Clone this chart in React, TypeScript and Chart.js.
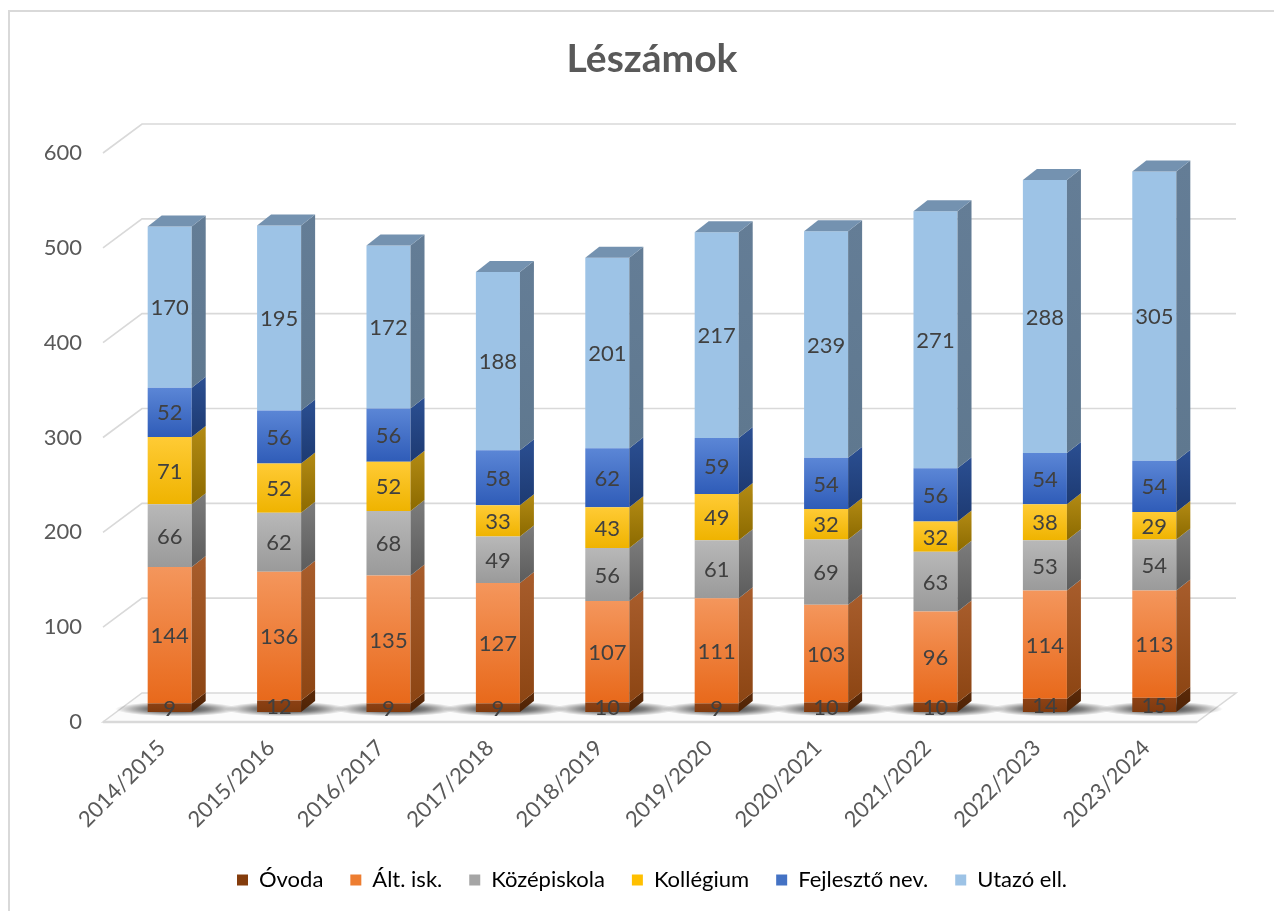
import React, { useEffect, useRef } from 'react';
import { Chart, registerables } from 'chart.js';

Chart.register(...registerables);

// ---------- data ----------
const categories = [
  '2014/2015', '2015/2016', '2016/2017', '2017/2018', '2018/2019',
  '2019/2020', '2020/2021', '2021/2022', '2022/2023', '2023/2024',
];
const seriesNames = ['Óvoda', 'Ált. isk.', 'Középiskola', 'Kollégium', 'Fejlesztő nev.', 'Utazó ell.'];
const ovoda = [9, 12, 9, 9, 10, 9, 10, 10, 14, 15];
const altIsk = [144, 136, 135, 127, 107, 111, 103, 96, 114, 113];
const kozepiskola = [66, 62, 68, 49, 56, 61, 69, 63, 53, 54];
const kollegium = [71, 52, 52, 33, 43, 49, 32, 32, 38, 29];
const fejleszto = [52, 56, 56, 58, 62, 59, 54, 56, 54, 54];
const utazo = [170, 195, 172, 188, 201, 217, 239, 271, 288, 305];
const yTickValues = [0, 100, 200, 300, 400, 500, 600];
const titleText = 'Lészámok';

const seriesValues = [ovoda, altIsk, kozepiskola, kollegium, fejleszto, utazo];

// ---------- styles ----------
const FONT = 'Lato, "Open Sans", sans-serif';
const TEXT = '#595959';
const GRID = '#d9d9d9';
const solid = ['#843c0c', '#ed7d31', '#a5a5a5', '#ffc000', '#4472c4', '#9dc3e6'];
const frontTop = ['#8c4114', '#f4965c', '#b8b8b8', '#ffcb35', '#5b86d6', '#9dc3e6'];
const frontBot = ['#7f3a0e', '#e8691b', '#9a9a9a', '#efb300', '#2f5cb8', '#9dc3e6'];
const sideTop = ['#5c2a08', '#a85d2c', '#7c7c7c', '#b38b14', '#2b4f92', '#647d96'];
const sideBot = ['#4e2306', '#8c4513', '#5c5c5c', '#8c6a00', '#1d3a72', '#5f788f'];
const topFace = '#7492b0';
const DX = 14; // side depth
const DY = 11; // side rise

const frontGradient = (c: any) => {
  const chart = c.chart;
  const i = c.datasetIndex;
  if (c.type !== 'data' || !chart.chartArea || !chart.scales || !chart.scales.y) return solid[i];
  const yScale = chart.scales.y;
  let start = 0;
  for (let k = 0; k < i; k++) start += seriesValues[k][c.dataIndex];
  const end = start + seriesValues[i][c.dataIndex];
  const y1 = yScale.getPixelForValue(end);
  const y2 = yScale.getPixelForValue(start);
  if (!isFinite(y1) || !isFinite(y2) || y1 === y2) return solid[i];
  const g = chart.ctx.createLinearGradient(0, y1, 0, y2);
  g.addColorStop(0, frontTop[i]);
  g.addColorStop(1, frontBot[i]);
  return g;
};

const threeD = {
  id: 'threeD',
  beforeDraw(chart: any) {
    const { ctx, width, height } = chart;
    ctx.save();
    ctx.fillStyle = '#ffffff';
    ctx.fillRect(0, 0, width, height);
    ctx.strokeStyle = '#d9d9d9';
    ctx.lineWidth = 2;
    ctx.beginPath();
    ctx.moveTo(9, height);
    ctx.lineTo(9, 11);
    ctx.lineTo(width, 11);
    ctx.stroke();
    ctx.restore();
  },
  beforeDatasetsDraw(chart: any) {
    const { ctx, chartArea, scales } = chart;
    const y = scales.y;
    const left = chartArea.left;
    const right = chartArea.right;
    const y0 = y.getPixelForValue(0);
    ctx.save();
    // floor
    ctx.beginPath();
    ctx.moveTo(left - 12, y0 + 10);
    ctx.lineTo(right - 12, y0 + 10);
    ctx.lineTo(right + 27, y0 - 19);
    ctx.lineTo(left + 27, y0 - 19);
    ctx.closePath();
    ctx.fillStyle = '#fbfbfb';
    ctx.fill();
    ctx.strokeStyle = GRID;
    ctx.lineWidth = 1.5;
    ctx.stroke();
    ctx.lineWidth = 2.5;
    ctx.beginPath();
    ctx.moveTo(left - 12, y0 + 10);
    ctx.lineTo(right - 12, y0 + 10);
    ctx.stroke();
    // back-wall gridlines
    ctx.lineWidth = 1.6;
    for (const v of yTickValues) {
      if (v === 0) continue;
      const py = y.getPixelForValue(v);
      ctx.beginPath();
      ctx.moveTo(left - 12, py + 10);
      ctx.lineTo(left + 27, py - 19);
      ctx.lineTo(right + 27, py - 19);
      ctx.stroke();
    }
    // shadows under bars
    const meta = chart.getDatasetMeta(0);
    for (const el of meta.data) {
      const { x, width } = el.getProps(['x', 'width'], true);
      const cx = x + DX / 2;
      const cy = y0 - 3;
      ctx.save();
      ctx.translate(cx, cy);
      ctx.scale(1, 0.12);
      const r = width * 1.4;
      const g = ctx.createRadialGradient(0, 0, 0, 0, 0, r);
      g.addColorStop(0, 'rgba(0,0,0,0.8)');
      g.addColorStop(0.5, 'rgba(0,0,0,0.5)');
      g.addColorStop(1, 'rgba(0,0,0,0)');
      ctx.fillStyle = g;
      ctx.beginPath();
      ctx.arc(0, 0, r, 0, Math.PI * 2);
      ctx.fill();
      ctx.restore();
    }
    ctx.restore();
  },
  afterDatasetsDraw(chart: any) {
    const { ctx } = chart;
    ctx.save();
    const n = chart.data.datasets.length;
    for (let i = 0; i < n; i++) {
      const meta = chart.getDatasetMeta(i);
      for (const el of meta.data) {
        const { x, y, base, width } = el.getProps(['x', 'y', 'base', 'width'], true);
        const xr = x + width / 2;
        const xl = x - width / 2;
        const g = ctx.createLinearGradient(0, y - DY, 0, base);
        g.addColorStop(0, sideTop[i]);
        g.addColorStop(1, sideBot[i]);
        ctx.fillStyle = g;
        ctx.beginPath();
        ctx.moveTo(xr, y);
        ctx.lineTo(xr + DX, y - DY);
        ctx.lineTo(xr + DX, base - DY);
        ctx.lineTo(xr, base);
        ctx.closePath();
        ctx.fill();
        if (i === n - 1) {
          ctx.fillStyle = topFace;
          ctx.beginPath();
          ctx.moveTo(xl, y);
          ctx.lineTo(xl + DX, y - DY);
          ctx.lineTo(xr + DX, y - DY);
          ctx.lineTo(xr, y);
          ctx.closePath();
          ctx.fill();
        }
      }
    }
    // data labels
    ctx.fillStyle = '#404040';
    ctx.font = `22px ${FONT}`;
    ctx.textAlign = 'center';
    ctx.textBaseline = 'middle';
    for (let i = 0; i < n; i++) {
      const meta = chart.getDatasetMeta(i);
      meta.data.forEach((el: any, j: number) => {
        const { x, y, base } = el.getProps(['x', 'y', 'base'], true);
        ctx.fillText(String(seriesValues[i][j]), x, (y + base) / 2 + 1);
      });
    }
    ctx.restore();
  },
};

export default function App() {
  const ref = useRef<HTMLCanvasElement | null>(null);
  useEffect(() => {
    if (!ref.current) return;
    const chart = new Chart(ref.current, {
      type: 'bar',
      data: {
        labels: categories,
        datasets: seriesNames.map((name, i) => ({
          label: name,
          data: seriesValues[i],
          backgroundColor: frontGradient,
          borderWidth: 0,
          barPercentage: 1,
          categoryPercentage: 0.4025,
        })),
      },
      options: {
        responsive: false,
        animation: false,
        devicePixelRatio: 1,
        layout: { padding: { left: 30, right: 0, top: 0, bottom: 10 } },
        plugins: {
          title: {
            display: true,
            text: titleText,
            color: TEXT,
            font: { family: FONT, size: 39, weight: 'bold' },
            padding: { top: 36, bottom: 60.2 },
          },
          legend: {
            position: 'bottom',
            labels: {
              color: TEXT,
              font: { family: FONT, size: 22 },
              boxWidth: 11,
              boxHeight: 11,
              padding: 27,
              generateLabels: () =>
                seriesNames.map((name, i) => ({
                  text: name,
                  fillStyle: solid[i],
                  strokeStyle: solid[i],
                  lineWidth: 0,
                  hidden: false,
                  datasetIndex: i,
                })),
            },
          },
          tooltip: { enabled: false },
        },
        scales: {
          x: {
            stacked: true,
            grid: { display: false },
            border: { display: false },
            ticks: {
              color: TEXT,
              font: { family: FONT, size: 22 },
              minRotation: 45,
              maxRotation: 45,
              padding: 15,
              labelOffset: -8,
            },
            afterFit: (s: any) => {
              s.height = 130;
            },
          },
          y: {
            stacked: true,
            min: 0,
            max: 600,
            grid: { display: false, drawTicks: false },
            border: { display: false },
            ticks: {
              stepSize: 100,
              color: TEXT,
              font: { family: FONT, size: 22 },
              padding: 33,
              labelOffset: 10,
            },
            afterFit: (s: any) => {
              s.width = 85;
            },
          },
          yRight: {
            position: 'right',
            display: true,
            min: 0,
            max: 600,
            grid: { display: false, drawTicks: false },
            border: { display: false },
            ticks: { display: false },
            afterFit: (s: any) => {
              s.width = 65;
            },
          },
        },
      },
      plugins: [threeD],
    } as any);
    return () => chart.destroy();
  }, []);
  return (
    <div style={{ position: 'absolute', left: 0, top: 0, width: 1274, height: 911, background: '#fff' }}>
      <canvas ref={ref} width={1274} height={911} style={{ display: 'block' }} />
    </div>
  );
}
